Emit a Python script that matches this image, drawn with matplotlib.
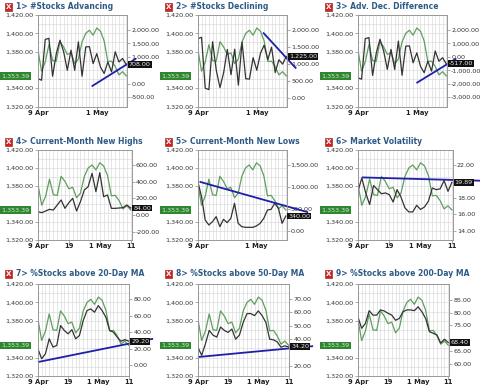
import numpy as np
import matplotlib.pyplot as plt
from matplotlib.transforms import blended_transform_factory

# trading days shown on every panel
dates = ['9 Apr', '10 Apr', '11 Apr', '12 Apr', '13 Apr', '16 Apr', '17 Apr', '18 Apr',
         '19 Apr', '20 Apr', '23 Apr', '24 Apr', '25 Apr', '26 Apr', '27 Apr', '30 Apr',
         '1 May', '2 May', '3 May', '4 May', '7 May', '8 May', '9 May', '10 May', '11 May']
tick_days = [0, 8, 16, 24]
tick_names = ['9 Apr', '19', '1 May', '11']

# index close (green line, left axis)
spx = [1382.20, 1358.59, 1368.71, 1387.57, 1370.26, 1369.57, 1390.78, 1385.14, 1376.92,
       1378.53, 1366.94, 1371.97, 1390.69, 1399.98, 1403.36, 1397.91, 1405.82, 1402.31,
       1391.57, 1369.10, 1369.58, 1363.72, 1354.58, 1357.99, 1353.39]

# breadth indicators (dark line, right axis)
adv = [190, 130, 1650, 1690, 280, 1120, 1620, 1190, 500, 1250, 500, 1560, 280,
       1370, 1380, 750, 1120, 620, 380, 810, 440, 1190, 810, 940, 708]
dec = [1750, 1790, 290, 250, 1660, 820, 310, 750, 1430, 690, 1440, 380, 1650,
       570, 560, 1190, 820, 1320, 1560, 1130, 1500, 750, 1130, 1000, 1225]
diff = [-1560, -1660, 1360, 1440, -1380, 300, 1310, 440, -930, 560, -940, 1180, -1370,
        800, 820, -440, 300, -700, -1180, -320, -1060, 440, -320, -60, -517]
highs = [40, 28, 48, 68, 60, 120, 180, 80, 148, 200, 48, 160, 300,
         340, 500, 280, 508, 220, 240, 80, 80, 84, 88, 120, 84]
lows = [1120, 780, 250, 136, 212, 326, 98, 265, 190, 288, 630, 174, 98,
        83, 83, 83, 114, 174, 288, 477, 492, 630, 515, 174, 340]
vix = [18.8, 20.4, 18.6, 17.2, 19.5, 19.0, 18.5, 18.6, 18.4, 17.5, 19.0, 18.1, 16.8,
       16.3, 16.3, 17.1, 16.6, 16.9, 17.6, 19.2, 19.0, 19.1, 20.1, 18.8, 19.89]
ma20 = [20, 8, 14, 32, 22, 24, 48, 42, 38, 43, 32, 36, 54,
        66, 68, 64, 72, 66, 58, 42, 40, 34, 29, 31, 29.2]
ma50 = [34, 28, 36.5, 46.5, 43, 41.5, 49, 46.5, 45, 47.5, 40, 43, 52.5,
        59, 59, 57.5, 61, 57.5, 52.5, 40, 39.5, 38, 34, 35, 34.2]
ma200 = [78.4, 73.9, 75.8, 80.7, 79, 79, 81, 80.6, 79.7, 79, 77, 77.7, 80.3,
         81, 81, 80.7, 82.2, 80.3, 77.7, 72.6, 72, 71.3, 68.2, 69.7, 68.4]

titles = ['1> #Stocks Advancing', '2> #Stocks Declining', '3> Adv. Dec. Difference',
          '4> Current-Month New Highs', '5> Current-Month New Lows', '6> Market Volatility',
          '7> %Stocks above 20-Day MA', '8> %Stocks above 50-Day MA', '9> %Stocks above 200-Day MA']
last_labels = ['708.00', '1,225.00', '-517.00', '84.00', '340.00', '19.89', '29.20', '34.20', '68.40']

# hand-drawn trend lines (day index, indicator value)
trend_x = [[14.6, 26.7], [17.7, 26.7], [15.9, 26.7], None, [0.45, 30.1], [1.0, 31.4],
           [0, 30.5], [0, 30.5], None]
trend_y = [[-100, 940], [1930, 870], [-1950, -130], None, [1120, 425], [20.48, 20.08],
           [4, 32], [26.7, 34.8], None]

series = [adv, dec, diff, highs, lows, vix, ma20, ma50, ma200]
right_lims = [(-850, 2560), (-247, 2446), (-3700, 3125), (-300, 780), (-205, 1841),
              (12.9, 23.8), (-12.8, 98), (12.6, 81), (55.5, 91)]
right_ticks = [[-500, 0, 1000, 1500, 2000], [0, 500, 1000, 1500, 2000],
               [-3000, -2000, -1000, 0, 1000, 2000], [-200, 0, 200, 400, 600],
               [0, 500, 1000, 1500], [14, 16, 18, 22], [0, 20, 40, 60, 80],
               [20, 40, 50, 60, 70], [60, 65, 75, 80, 85]]
left_ticks = [1320, 1340, 1380, 1400, 1420]

W, H = 480, 389
fig = plt.figure(figsize=(W / 100, H / 100), dpi=100)
fig.patch.set_facecolor('white')

# pixel layout: title y, axes top, axes bottom per row; axes right edge per panel
rows = [(6.7, 15, 106.5), (141.7, 150, 240), (274, 284, 376)]
rights = [127, 127, 127, 131.5, 126.5, 132.7, 129.3, 129.3, 129]

x = np.arange(len(dates))
dark = '#333333'
green = '#5e9e5e'
fs = 4.6

for k in range(9):
    r, c = divmod(k, 3)
    x0 = c * 160
    ty, top, bot = rows[r]
    left, right = x0 + 37.5, x0 + rights[k]
    ax = fig.add_axes([left / W, 1 - bot / H, (right - left) / W, (bot - top) / H])
    ax.set_facecolor('white')
    ax.set_xlim(-0.1, 24.2)
    ax.set_ylim(1320, 1420)
    ax.set_xticks(np.arange(25), minor=True)
    ax.set_yticks(np.arange(1320, 1421, 10), minor=True)
    ax.grid(which='both', color='#dcdcdc', lw=0.5)
    ax.set_axisbelow(True)
    ax.set_yticks(left_ticks)
    ax.set_yticklabels(['{:,.2f}'.format(v) for v in left_ticks])
    if r == 0 or k == 4:
        show = [0, 2]
    else:
        show = [0, 1, 2, 3]
    ax.set_xticks([tick_days[i] for i in show])
    ax.set_xticklabels([tick_names[i] for i in show], fontweight='bold')
    ax.tick_params(which='minor', length=0)
    ax.tick_params(which='major', labelsize=fs, length=2, width=0.5, color='#888888',
                   labelcolor='#333333', pad=1)
    ax.tick_params(axis='x', labelsize=fs + 0.3, pad=0.5, labelcolor='#222222')
    for s in ax.spines.values():
        s.set_color('#999999')
        s.set_linewidth(0.6)
    ax.plot(x, spx, color=green, lw=0.9)

    ax2 = ax.twinx()
    ax2.set_ylim(right_lims[k])
    ax2.set_yticks(right_ticks[k])
    ax2.set_yticklabels(['{:,.2f}'.format(v) for v in right_ticks[k]])
    ax2.tick_params(labelsize=fs, length=2, width=0.5, color='#888888',
                    labelcolor='#333333', pad=1)
    for s in ax2.spines.values():
        s.set_color('#999999')
        s.set_linewidth(0.6)
    ax2.plot(x, series[k], color=dark, lw=0.9)
    if trend_x[k] is not None:
        ax2.plot(trend_x[k], trend_y[k], color='#1f1fa8', lw=1.3, clip_on=False,
                 solid_capstyle='butt')

    # last-value tags
    tr2 = blended_transform_factory(ax2.transAxes, ax2.transData)
    ax2.text(1.02, series[k][-1], last_labels[k], transform=tr2, ha='left', va='center',
             fontsize=fs, color='#e8e8e8', zorder=10, clip_on=False,
             bbox=dict(boxstyle='square,pad=0.15', facecolor='#111111', edgecolor='none'))
    tr1 = blended_transform_factory(ax.transAxes, ax.transData)
    gx = (x0 + 1.5 - left) / (right - left)
    ax.text(gx, spx[-1], '{:,.2f}'.format(spx[-1]), transform=tr1, ha='left', va='center',
            fontsize=fs, color='#cfe8cf', zorder=10, clip_on=False,
            bbox=dict(boxstyle='square,pad=0.2', facecolor='#2f862f', edgecolor='none'))

    # title with red close icon
    fig.text((x0 + 8.5) / W, 1 - ty / H, 'X', fontsize=5, fontweight='bold', color='white',
             ha='center', va='center',
             bbox=dict(boxstyle='square,pad=0.12', facecolor='#cc2222', edgecolor='#991111', lw=0.4))
    fig.text((x0 + 16) / W, 1 - ty / H, titles[k], fontsize=5.5, fontweight='bold',
             color='#2e5a86', ha='left', va='center')

fig.savefig('out.png', dpi=100)
